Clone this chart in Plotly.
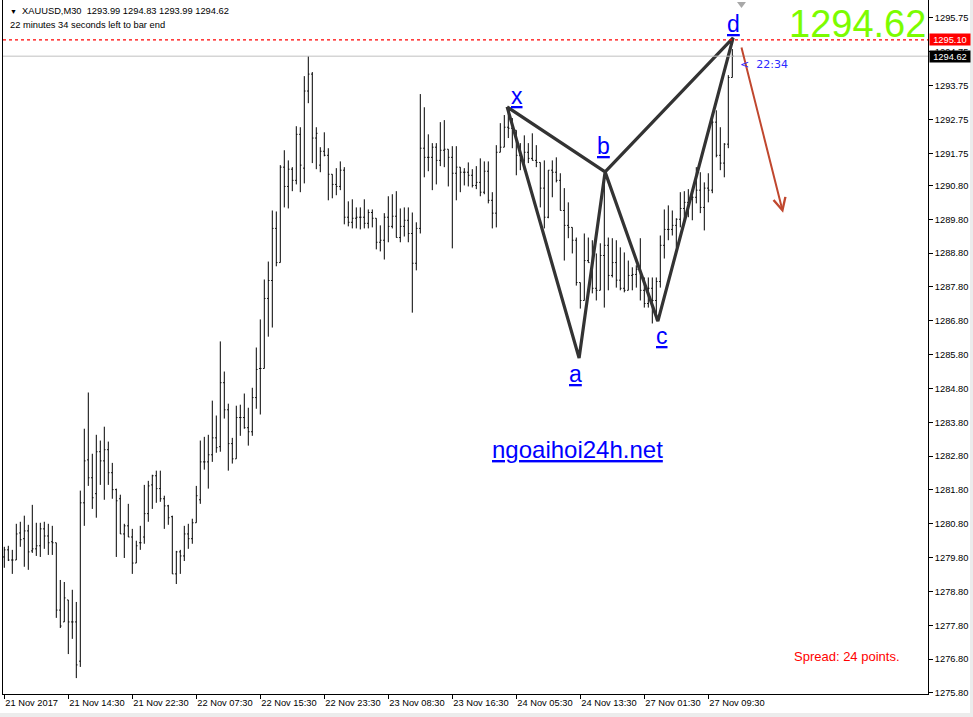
import plotly.graph_objects as go

# ---------------- data ----------------
bar_open = [1279.82,1280.03,1279.73,1279.73,1280.53,1280.36,1280.59,1280.00,1280.06,1280.15,
1280.65,1280.44,1280.27,1280.24,1278.25,1277.90,1278.55,1277.90,1277.90,1276.74,
1281.42,1282.69,1282.16,1281.69,1282.93,1282.66,1282.99,1282.31,1281.81,1281.54,
1280.50,1280.74,1280.41,1279.64,1280.24,1280.41,1281.10,1281.95,1282.22,1281.84,
1281.54,1281.33,1281.01,1279.32,1279.97,1279.85,1280.50,1280.36,1280.83,1281.51,
1282.63,1282.63,1282.84,1283.34,1283.08,1284.97,1284.17,1283.17,1282.72,1283.94,
1283.94,1283.64,1283.52,1284.53,1285.39,1285.39,1287.46,1287.99,1289.53,1288.52,
1291.34,1290.77,1291.28,1290.95,1292.31,1291.31,1293.59,1294.09,1292.20,1291.40,
1291.81,1291.69,1291.13,1290.83,1290.77,1291.25,1289.86,1289.71,1289.83,1289.86,
1289.86,1289.68,1290.00,1289.83,1289.12,1289.18,1289.86,1289.59,1289.89,1289.26,
1289.59,1289.77,1289.38,1288.50,1289.53,1291.90,1291.63,1291.63,1291.93,1291.54,
1291.84,1291.87,1291.63,1291.16,1291.34,1291.19,1291.19,1291.10,1290.80,1290.89,
1290.60,1291.22,1290.36,1289.98,1291.78,1291.93,1292.52,1292.49,1292.43,1291.69,
1291.54,1291.78,1291.60,1291.54,1291.48,1290.72,1289.86,1291.25,1291.19,1290.95,
1290.06,1289.62,1289.56,1289.18,1287.93,1287.40,1288.58,1288.52,1287.76,1287.70,
1288.73,1289.03,1288.14,1288.52,1288.00,1287.76,1287.70,1288.14,1288.17,1288.32,
1287.70,1287.31,1287.76,1287.40,1287.96,1289.03,1289.50,1289.50,1289.62,1289.80,
1290.12,1290.30,1290.39,1290.45,1290.66,1290.15,1290.72,1290.66,1292.67,1291.69,
1291.46,1292.02,1293.99]

bar_high = [1280.12,1280.15,1280.03,1280.80,1280.86,1281.04,1280.77,1281.36,1280.83,1280.83,
1280.86,1280.80,1280.74,1280.24,1279.14,1279.08,1278.55,1278.85,1278.49,1281.78,
1283.61,1284.68,1282.87,1283.43,1283.26,1283.67,1283.23,1282.60,1281.84,1281.66,
1280.80,1281.39,1280.65,1280.30,1280.74,1281.95,1282.07,1282.25,1282.37,1282.37,
1281.63,1281.36,1281.04,1280.00,1280.03,1280.74,1280.80,1280.95,1281.92,1283.26,
1283.37,1283.43,1284.44,1284.00,1286.19,1285.30,1284.35,1283.34,1284.29,1284.32,
1284.65,1284.23,1284.82,1286.01,1286.84,1288.02,1288.55,1290.06,1290.03,1291.40,
1291.84,1291.54,1291.34,1292.55,1292.52,1294.03,1294.62,1294.15,1292.52,1291.93,
1292.37,1291.90,1291.13,1291.31,1291.51,1291.34,1290.33,1290.39,1290.15,1290.15,
1290.39,1290.09,1290.09,1289.83,1289.62,1289.98,1290.48,1290.54,1290.63,1290.12,
1290.15,1290.15,1290.00,1289.71,1293.50,1293.11,1292.31,1292.05,1292.05,1292.67,
1292.73,1291.87,1291.96,1291.96,1291.34,1291.31,1291.48,1291.28,1291.37,1291.60,
1291.51,1291.51,1290.60,1291.99,1292.64,1292.88,1293.12,1292.79,1292.43,1292.05,
1292.28,1292.05,1292.34,1291.99,1291.48,1291.54,1291.25,1291.54,1291.63,1291.16,
1290.72,1290.30,1289.56,1289.26,1287.93,1289.38,1289.26,1289.18,1288.79,1289.09,
1291.10,1289.26,1289.24,1289.18,1288.97,1288.82,1288.58,1288.38,1288.44,1289.24,
1288.08,1288.08,1288.08,1288.08,1289.32,1290.09,1290.21,1290.06,1289.83,1290.60,
1290.63,1290.69,1290.51,1291.34,1291.19,1290.89,1291.16,1292.88,1293.02,1292.52,
1292.05,1294.06,1294.83]

bar_low = [1279.50,1279.70,1279.32,1279.73,1280.12,1279.53,1279.44,1279.94,1279.85,1279.82,
1280.06,1279.88,1279.88,1278.02,1277.72,1277.90,1276.95,1277.40,1276.24,1276.57,
1280.74,1281.92,1281.24,1280.98,1281.95,1281.51,1281.95,1281.54,1279.82,1280.50,
1279.79,1280.41,1279.32,1279.64,1280.03,1280.21,1280.86,1281.24,1281.42,1281.45,
1280.65,1280.77,1279.32,1279.02,1279.32,1279.70,1280.06,1280.21,1280.83,1281.39,
1282.40,1281.84,1282.63,1282.90,1282.93,1283.91,1282.37,1282.58,1282.72,1283.40,
1283.61,1283.11,1283.40,1284.20,1284.03,1285.39,1286.33,1286.60,1288.41,1288.52,
1290.15,1290.12,1290.63,1290.83,1290.60,1290.86,1293.23,1291.46,1291.28,1291.19,
1291.66,1290.36,1290.42,1290.51,1290.66,1289.65,1289.59,1289.53,1289.53,1289.50,
1289.53,1289.53,1289.56,1288.91,1288.85,1288.61,1289.12,1289.53,1289.26,1289.12,
1289.29,1289.12,1287.04,1288.29,1289.38,1291.04,1291.22,1290.66,1290.83,1291.37,
1291.34,1290.77,1288.94,1290.36,1290.60,1290.80,1290.77,1290.74,1290.69,1290.48,
1290.54,1290.27,1289.53,1289.56,1291.78,1291.93,1292.20,1291.90,1291.10,1291.25,
1291.25,1291.46,1291.54,1291.34,1290.15,1289.53,1289.83,1290.45,1290.89,1290.06,
1288.58,1289.24,1288.79,1287.84,1287.16,1287.40,1288.52,1287.61,1287.40,1287.70,
1287.19,1287.70,1288.08,1287.78,1287.70,1287.64,1287.70,1287.70,1287.78,1287.40,
1287.19,1287.19,1286.72,1286.81,1287.78,1288.64,1289.18,1289.32,1288.97,1289.56,
1289.77,1289.86,1289.77,1290.27,1289.98,1289.47,1290.30,1290.57,1291.63,1291.25,
1291.04,1291.90,1293.99]

bar_close = [1280.03,1279.73,1279.73,1280.50,1280.33,1280.59,1279.97,1280.06,1280.15,1280.65,
1280.44,1280.24,1280.24,1278.25,1277.78,1278.61,1277.90,1277.90,1276.63,1281.42,
1282.66,1282.16,1281.57,1282.93,1282.66,1282.99,1282.31,1281.81,1281.48,1280.50,
1280.74,1280.41,1279.64,1280.15,1280.24,1281.10,1281.92,1282.22,1281.84,1281.54,
1281.33,1280.98,1279.32,1279.97,1279.85,1280.50,1280.36,1280.83,1281.63,1282.63,
1282.63,1282.84,1283.34,1283.05,1284.97,1284.17,1283.17,1282.72,1283.94,1283.94,
1283.64,1283.52,1284.53,1285.36,1285.39,1287.46,1287.99,1289.53,1288.52,1291.34,
1290.77,1291.28,1290.95,1292.31,1291.40,1293.59,1294.09,1292.20,1292.34,1291.81,
1291.69,1291.13,1290.83,1290.77,1291.25,1289.86,1289.71,1289.83,1289.86,1289.86,
1289.68,1290.00,1289.83,1289.12,1289.18,1289.86,1289.59,1289.89,1289.26,1289.59,
1289.77,1289.38,1288.50,1289.53,1291.90,1291.63,1291.63,1291.93,1291.54,1291.84,
1291.87,1291.63,1291.16,1291.34,1291.19,1291.19,1291.10,1290.80,1290.89,1290.60,
1291.22,1290.36,1289.98,1291.78,1291.93,1292.52,1292.49,1292.49,1291.69,1291.54,
1291.78,1291.60,1291.54,1291.48,1290.72,1289.86,1291.25,1291.19,1290.95,1290.06,
1289.62,1289.56,1289.18,1287.93,1287.40,1288.58,1288.52,1287.76,1287.70,1288.73,
1289.03,1288.14,1288.52,1288.00,1287.76,1287.70,1288.14,1288.17,1288.32,1287.70,
1287.31,1287.76,1287.40,1287.96,1289.03,1289.50,1289.50,1289.62,1289.80,1290.12,
1290.30,1290.39,1290.45,1290.66,1290.15,1290.72,1290.66,1292.67,1291.69,1291.46,
1292.02,1293.99,1294.62]

bar_index = list(range(len(bar_close)))

time_tick_bars = [0, 16, 32, 48, 64, 80, 96, 112, 128, 144, 160, 176]
time_tick_labels = ["21 Nov 2017", "21 Nov 14:30", "21 Nov 22:30", "22 Nov 07:30",
                    "22 Nov 15:30", "22 Nov 23:30", "23 Nov 08:30", "23 Nov 16:30",
                    "24 Nov 05:30", "24 Nov 13:30", "27 Nov 01:30", "27 Nov 09:30"]

price_ticks = [1295.75, 1294.75, 1293.75, 1292.75, 1291.75, 1290.80, 1289.80, 1288.80,
               1287.80, 1286.80, 1285.80, 1284.80, 1283.80, 1282.80, 1281.80, 1280.80,
               1279.80, 1278.80, 1277.80, 1276.80, 1275.80]

# harmonic pattern points (bar position, price)
pattern_labels = ["x", "a", "b", "c", "d"]
pattern_bar = [125.7, 143.7, 150.2, 163.4, 182.2]
pattern_price = [1293.12, 1285.70, 1291.20, 1286.79, 1295.16]

resistance_level = 1295.10
last_price = bar_close[-1]
spread_points = 24
timer_text = "22:34"

arrow_tail = (184.2, 1294.92)
arrow_head = (194.7, 1289.99)

# ---------------- figure ----------------
BASE_FONT = "Liberation Sans, Arial, sans-serif"
fig = go.Figure()

fig.add_trace(go.Ohlc(
    x=bar_index, open=bar_open, high=bar_high, low=bar_low, close=bar_close,
    increasing=dict(line=dict(color="black", width=1)),
    decreasing=dict(line=dict(color="black", width=1)),
    tickwidth=0.3, hoverinfo="skip", showlegend=False))

# pattern polyline X-A-B-C-D-B-X
order = [0, 1, 2, 3, 4, 2, 0]
fig.add_trace(go.Scatter(
    x=[pattern_bar[k] for k in order], y=[pattern_price[k] for k in order],
    mode="lines", line=dict(color="#333333", width=3.2),
    hoverinfo="skip", showlegend=False))

shapes = [
    dict(type="line", xref="paper", x0=0, x1=1, yref="y", y0=resistance_level, y1=resistance_level,
         line=dict(color="#ff0000", width=1.3, dash="3px,3px")),
    dict(type="line", xref="paper", x0=0, x1=1, yref="y", y0=last_price, y1=last_price,
         line=dict(color="#c0c0c0", width=1)),
    # window edge strips
    dict(type="rect", xref="paper", yref="paper", x0=1.0454, x1=1.2, y0=-0.2, y1=1.2,
         fillcolor="#ececec", line=dict(width=0), layer="above"),
    dict(type="rect", xref="paper", yref="paper", x0=-0.1, x1=1.2, y0=-0.2, y1=-0.0274,
         fillcolor="#ececec", line=dict(width=0), layer="above"),
    # chart-shift marker
    dict(type="path", xref="paper", yref="paper",
         path="M 0.7935 0.9971 L 0.8032 0.9971 L 0.7984 0.9885 Z",
         fillcolor="#a8a8a8", line=dict(width=0)),
]

annotations = []
label_shift = {"x": (10, 11), "a": (-4, -16), "b": (-2, 26), "c": (4, -15), "d": (0, 14)}
for lab, bx, py in zip(pattern_labels, pattern_bar, pattern_price):
    sx, sy = label_shift[lab]
    annotations.append(dict(x=bx, y=py, xref="x", yref="y", text=lab, showarrow=False,
                            xshift=sx, yshift=sy,
                            font=dict(family=BASE_FONT, size=23, color="#0000ff", lineposition="under")))

# arrow
annotations.append(dict(x=arrow_head[0], y=arrow_head[1], ax=arrow_tail[0], ay=arrow_tail[1],
                        xref="x", yref="y", axref="x", ayref="y", text="", showarrow=True,
                        arrowhead=5, arrowsize=1.2, arrowwidth=2, arrowcolor="#c0472e"))

# timer next to last bar
annotations.append(dict(x=bar_index[-1], y=last_price, xref="x", yref="y",
                        text="<\u00a0 " + timer_text, showarrow=False, xanchor="left",
                        xshift=6, yshift=-8,
                        font=dict(family="DejaVu Sans, sans-serif", size=11, color="#2a2aff")))

# big price
annotations.append(dict(x=0.9968, y=0.968, xref="paper", yref="paper", text=f"{last_price:.2f}",
                        showarrow=False, xanchor="right", yanchor="middle", xshift=3, yshift=-2,
                        font=dict(family="Liberation Sans Narrow, Liberation Sans, Arial", size=38,
                                  color="#7cfc00")))

# header
annotations.append(dict(x=0.0054, y=0.9841, xref="paper", yref="paper", xanchor="left",
                        yanchor="middle", showarrow=False,
                        text="<span style='font-size:7px'>\u25bc</span>\u00a0 XAUUSD,M30\u00a0\u00a0"
                             f"{bar_open[-1]:.2f} {bar_high[-1]:.2f} {bar_low[-1]:.2f} {bar_close[-1]:.2f}",
                        font=dict(family=BASE_FONT, size=9.3, color="black")))
annotations.append(dict(x=0.0054, y=0.964, xref="paper", yref="paper", xanchor="left",
                        yanchor="middle", showarrow=False,
                        text="22 minutes 34 seconds left to bar end",
                        font=dict(family=BASE_FONT, size=9.3, color="black")))

# watermark
annotations.append(dict(x=0.6216, y=0.3517, xref="paper", yref="paper", showarrow=False,
                        xanchor="center", yanchor="middle",
                        text="ngoaihoi24h.net",
                        font=dict(family=BASE_FONT, size=24, color="#0000ff", lineposition="under")))

# spread
annotations.append(dict(x=0.853, y=0.0535, xref="paper", yref="paper", showarrow=False,
                        xanchor="left", yanchor="middle", text=f"Spread: {spread_points} points.",
                        font=dict(family=BASE_FONT, size=13, color="red")))

# price tags on the axis
for lvl, bg in [(resistance_level, "red"), (last_price, "black")]:
    annotations.append(dict(x=1, y=lvl, xref="paper", yref="y", xanchor="left", xshift=1,
                            showarrow=False, text=f"{lvl:.2f}", bgcolor=bg, width=40, height=11,
                            borderpad=0, align="center",
                            font=dict(family=BASE_FONT, size=9.3, color="white")))

fig.update_layout(
    width=973, height=717,
    margin=dict(l=3, r=45, t=0, b=23, autoexpand=False),
    paper_bgcolor="white", plot_bgcolor="white",
    showlegend=False,
    font=dict(family=BASE_FONT, size=9.3, color="black"),
    xaxis=dict(range=[-0.325, 230.925], showgrid=False, zeroline=False,
               showline=True, linecolor="black", linewidth=1,
               ticks="outside", ticklen=4, tickcolor="black",
               tickvals=time_tick_bars, ticktext=time_tick_labels,
               ticklabelposition="outside right", tickangle=0, automargin=False,
               rangeslider=dict(visible=False), fixedrange=True),
    yaxis=dict(side="right", range=[1275.77, 1296.28], showgrid=False, zeroline=False,
               showline=True, mirror=True, linecolor="black", linewidth=1,
               ticks="outside", ticklen=4, tickcolor="black", automargin=False,
               tickvals=price_ticks, ticktext=[f"{v:.2f}" for v in price_ticks],
               fixedrange=True),
    shapes=shapes,
    annotations=annotations,
)

fig.write_html("out.html", config={"displayModeBar": False},
               post_script="document.body.style.margin='0';document.body.style.padding='0';"
                           "document.documentElement.style.overflow='hidden';")
